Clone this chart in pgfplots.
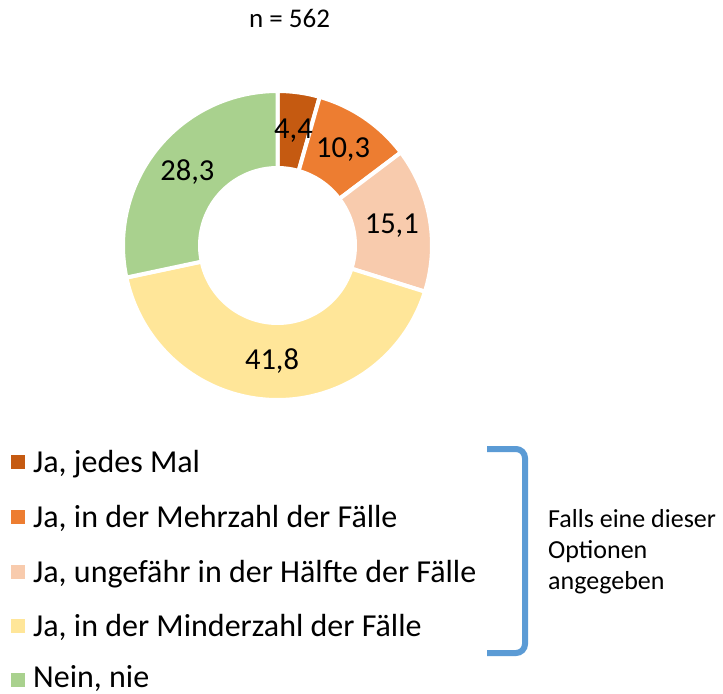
\documentclass[border=0pt]{standalone}
\usepackage{pgfplots}
\usepackage{pgfplotstable}
\pgfplotsset{compat=1.18}
\usepackage{fontspec}
\setmainfont{Carlito}
\definecolor{cA}{HTML}{C55A11}
\definecolor{cB}{HTML}{ED7D31}
\definecolor{cC}{HTML}{F8CBAD}
\definecolor{cD}{HTML}{FFE699}
\definecolor{cE}{HTML}{A9D18E}
\definecolor{bracketblue}{HTML}{5B9BD5}
\newcommand\fL{\fontsize{32bp}{38bp}\selectfont}
\newcommand\fD{\fontsize{30.5bp}{36bp}\selectfont}
\newcommand\fN{\fontsize{27bp}{32bp}\selectfont}
\newcommand\fF{\fontsize{26bp}{31bp}\selectfont}
\pgfplotstableread{
label value
jedes 4.4
mehr 10.3
haelfte 15.1
minder 41.8
nein 28.3
}\donutdata
\begin{document}
\begin{tikzpicture}
\pgfplotstablegetelem{0}{value}\of\donutdata\let\va\pgfplotsretval
\pgfplotstablegetelem{1}{value}\of\donutdata\let\vb\pgfplotsretval
\pgfplotstablegetelem{2}{value}\of\donutdata\let\vc\pgfplotsretval
\pgfplotstablegetelem{3}{value}\of\donutdata\let\vd\pgfplotsretval
\pgfplotstablegetelem{4}{value}\of\donutdata\let\ve\pgfplotsretval
\pgfmathsetmacro\total{\va+\vb+\vc+\vd+\ve}
\pgfmathsetmacro\aA{0}
\pgfmathsetmacro\aB{\va/\total*360}
\pgfmathsetmacro\aC{(\va+\vb)/\total*360}
\pgfmathsetmacro\aD{(\va+\vb+\vc)/\total*360}
\pgfmathsetmacro\aE{(\va+\vb+\vc+\vd)/\total*360}
\pgfmathsetmacro\aF{360}
\def\cx{277.5}\def\cy{245.5}\def\R{154.5}\def\r{79.5}\def\rm{116}
\pgfmathsetmacro\xA{\cx+\rm*sin((\aA+\aB)/2)}\pgfmathsetmacro\yA{\cy-\rm*cos((\aA+\aB)/2)}
\pgfmathsetmacro\xB{\cx+\rm*sin((\aB+\aC)/2)}\pgfmathsetmacro\yB{\cy-\rm*cos((\aB+\aC)/2)}
\pgfmathsetmacro\xC{\cx+\rm*sin((\aC+\aD)/2)}\pgfmathsetmacro\yC{\cy-\rm*cos((\aC+\aD)/2)}
\pgfmathsetmacro\xD{\cx+\rm*sin((\aD+\aE)/2)}\pgfmathsetmacro\yD{\cy-\rm*cos((\aD+\aE)/2)}
\pgfmathsetmacro\xE{\cx+\rm*sin((\aE+\aF)/2)}\pgfmathsetmacro\yE{\cy-\rm*cos((\aE+\aF)/2)}
\pgfkeys{/pgf/number format/.cd, use comma, fixed, fixed zerofill, precision=1, assume math mode=true}
\begin{axis}[
  width=723bp, height=694bp, scale only axis,
  xmin=0, xmax=723, ymin=0, ymax=694, y dir=reverse,
  hide axis, clip=false,
]
% donut sectors
\addplot[fill=cA, draw=white, line width=4bp, domain=\aA:\aB, samples=30, variable=\t] ({\cx+\R*sin(\t)},{\cy-\R*cos(\t)}) -- (axis cs:\cx,\cy) -- cycle;
\addplot[fill=cB, draw=white, line width=4bp, domain=\aB:\aC, samples=40, variable=\t] ({\cx+\R*sin(\t)},{\cy-\R*cos(\t)}) -- (axis cs:\cx,\cy) -- cycle;
\addplot[fill=cC, draw=white, line width=4bp, domain=\aC:\aD, samples=50, variable=\t] ({\cx+\R*sin(\t)},{\cy-\R*cos(\t)}) -- (axis cs:\cx,\cy) -- cycle;
\addplot[fill=cD, draw=white, line width=4bp, domain=\aD:\aE, samples=100, variable=\t] ({\cx+\R*sin(\t)},{\cy-\R*cos(\t)}) -- (axis cs:\cx,\cy) -- cycle;
\addplot[fill=cE, draw=white, line width=4bp, domain=\aE:\aF, samples=80, variable=\t] ({\cx+\R*sin(\t)},{\cy-\R*cos(\t)}) -- (axis cs:\cx,\cy) -- cycle;
\addplot[fill=white, draw=none, domain=0:360, samples=150, variable=\t] ({\cx+\r*sin(\t)},{\cy-\r*cos(\t)}) -- cycle;
% data labels
\node[font=\fD] at (axis cs:\xA,\yA) {\pgfmathprintnumber{\va}};
\node[font=\fD] at (axis cs:\xB,\yB) {\pgfmathprintnumber{\vb}};
\node[font=\fD] at (axis cs:\xC,\yC) {\pgfmathprintnumber{\vc}};
\node[font=\fD] at (axis cs:\xD,\yD) {\pgfmathprintnumber{\vd}};
\node[font=\fD] at (axis cs:\xE,\yE) {\pgfmathprintnumber{\ve}};
% title
\node[font=\fN, anchor=base] at (axis cs:289.5,28) {n = 562};
% legend
\addplot[only marks, mark=square*, mark size=6.5bp, color=cA] coordinates {(17.5,462)};
\addplot[only marks, mark=square*, mark size=6.5bp, color=cB] coordinates {(17.5,517)};
\addplot[only marks, mark=square*, mark size=6.5bp, color=cC] coordinates {(17.5,572)};
\addplot[only marks, mark=square*, mark size=6.5bp, color=cD] coordinates {(17.5,626)};
\addplot[only marks, mark=square*, mark size=6.5bp, color=cE] coordinates {(17.5,680)};
\node[font=\fL, anchor=base west, inner sep=0pt] at (axis cs:33,472.5) {Ja, jedes Mal};
\node[font=\fL, anchor=base west, inner sep=0pt] at (axis cs:33,527.5) {Ja, in der Mehrzahl der Fälle};
\node[font=\fL, anchor=base west, inner sep=0pt] at (axis cs:33,582.5) {Ja, ungefähr in der Hälfte der Fälle};
\node[font=\fL, anchor=base west, inner sep=0pt] at (axis cs:33,636.5) {Ja, in der Minderzahl der Fälle};
\node[font=\fL, anchor=base west, inner sep=0pt] at (axis cs:33,687) {Nein, nie};
% bracket
\addplot[color=bracketblue, line width=6bp, rounded corners=9bp] coordinates {(487,449) (525,449) (525,653) (487,653)};
\node[font=\fF, anchor=base west, inner sep=0pt] at (axis cs:548,527) {Falls eine dieser};
\node[font=\fF, anchor=base west, inner sep=0pt] at (axis cs:548,558) {Optionen};
\node[font=\fF, anchor=base west, inner sep=0pt] at (axis cs:548,589) {angegeben};
\end{axis}
\pgfresetboundingbox
\path (0,0) rectangle (723bp,694bp);
\end{tikzpicture}
\end{document}
